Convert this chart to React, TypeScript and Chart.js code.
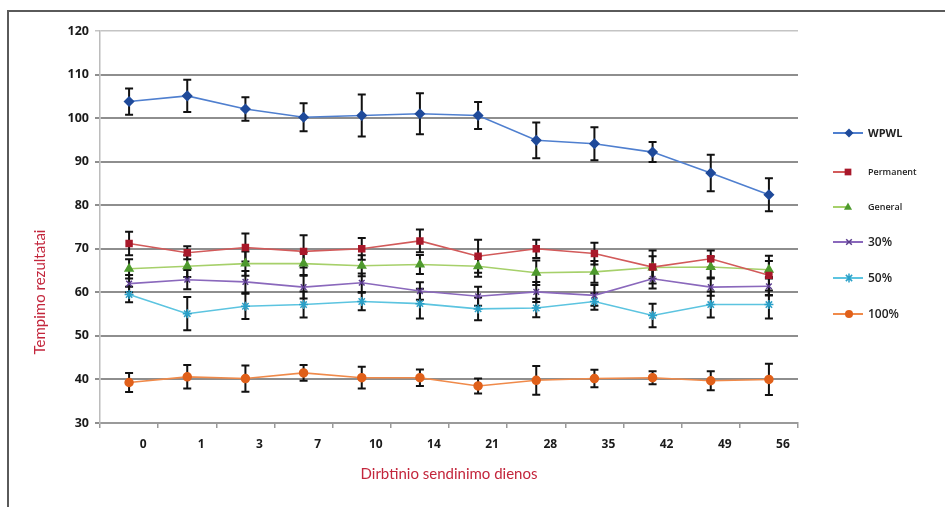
import React, { useEffect, useRef } from "react";
import { Chart, registerables } from "chart.js";

Chart.register(...registerables);

const categories = ["0", "1", "3", "7", "10", "14", "21", "28", "35", "42", "49", "56"];
const yTicks = [30, 40, 50, 60, 70, 80, 90, 100, 110, 120];

const seriesNames = ["WPWL", "Permanent", "General", "30%", "50%", "100%"];

const wpwl = [103.8, 105.1, 102.1, 100.2, 100.6, 101.0, 100.6, 94.9, 94.1, 92.2, 87.4, 82.4];
const wpwlErr = [3.0, 3.7, 2.7, 3.2, 4.8, 4.7, 3.1, 4.1, 3.8, 2.3, 4.2, 3.8];
const permanent = [71.2, 69.1, 70.3, 69.4, 70.0, 71.8, 68.3, 70.0, 68.9, 65.8, 67.7, 63.9];
const permanentErr = [2.7, 1.5, 3.2, 3.7, 2.5, 2.6, 3.8, 2.1, 2.5, 3.8, 1.9, 4.5];
const general = [65.4, 66.0, 66.6, 66.6, 66.1, 66.4, 66.0, 64.5, 64.7, 65.7, 65.8, 65.2];
const generalErr = [2.2, 2.5, 2.8, 2.6, 2.4, 2.2, 2.4, 2.8, 2.5, 2.6, 2.4, 2.0];
const p30 = [62.0, 62.9, 62.4, 61.2, 62.2, 60.3, 59.1, 60.1, 59.3, 63.1, 61.2, 61.4];
const p30Err = [2.0, 2.2, 2.5, 2.6, 2.1, 2.0, 2.2, 2.3, 2.4, 2.2, 2.0, 2.1];
const p50 = [59.5, 55.1, 56.8, 57.2, 57.9, 57.4, 56.2, 56.4, 57.9, 54.7, 57.2, 57.2];
const p50Err = [1.8, 3.8, 2.9, 3.0, 2.0, 3.4, 2.6, 2.1, 1.9, 2.7, 3.0, 3.2];
const p100 = [39.3, 40.6, 40.2, 41.5, 40.4, 40.4, 38.5, 39.8, 40.2, 40.4, 39.7, 40.0];
const p100Err = [2.2, 2.7, 3.0, 1.8, 2.5, 1.9, 1.7, 3.3, 2.0, 1.5, 2.2, 3.6];

const seriesValues = [wpwl, permanent, general, p30, p50, p100];
const seriesErrors = [wpwlErr, permanentErr, generalErr, p30Err, p50Err, p100Err];

const xTitle = "Dirbtinio sendinimo dienos";
const yTitle = "Tempimo rezultatai";

const styles = [
  { line: "#4f7fcf", point: "#1f4a9a", shape: "rectRot", radius: 4.5, font: "bold 11px 'Open Sans'", short: false },
  { line: "#d25a5a", point: "#a8182a", shape: "rect", radius: 4.2, font: "600 9px 'Open Sans'", short: true },
  { line: "#a6d06a", point: "#4e9a2e", shape: "triangle", radius: 4.5, font: "600 9px 'Open Sans'", short: true },
  { line: "#8a68bc", point: "#5a3c8c", shape: "crossRot", radius: 4, font: "600 12px 'Open Sans'", short: false },
  { line: "#5cc4e0", point: "#2aa0c8", shape: "star", radius: 4.5, font: "600 12px 'Open Sans'", short: false },
  { line: "#f08a4a", point: "#e0601a", shape: "circle", radius: 4, font: "600 12px 'Open Sans'", short: false },
];

function drawMarker(ctx: CanvasRenderingContext2D, shape: string, x: number, y: number, r: number, color: string) {
  ctx.save();
  ctx.fillStyle = color;
  ctx.strokeStyle = color;
  ctx.lineWidth = 1.5;
  ctx.beginPath();
  if (shape === "rectRot") {
    ctx.moveTo(x, y - r);
    ctx.lineTo(x + r, y);
    ctx.lineTo(x, y + r);
    ctx.lineTo(x - r, y);
    ctx.closePath();
    ctx.fill();
  } else if (shape === "rect") {
    ctx.rect(x - r * 0.8, y - r * 0.8, r * 1.6, r * 1.6);
    ctx.fill();
  } else if (shape === "triangle") {
    ctx.moveTo(x, y - r);
    ctx.lineTo(x + r * 0.9, y + r * 0.6);
    ctx.lineTo(x - r * 0.9, y + r * 0.6);
    ctx.closePath();
    ctx.fill();
  } else if (shape === "crossRot") {
    const d = r * 0.7;
    ctx.moveTo(x - d, y - d);
    ctx.lineTo(x + d, y + d);
    ctx.moveTo(x + d, y - d);
    ctx.lineTo(x - d, y + d);
    ctx.stroke();
  } else if (shape === "star") {
    const d = r * 0.7;
    ctx.moveTo(x - d, y - d);
    ctx.lineTo(x + d, y + d);
    ctx.moveTo(x + d, y - d);
    ctx.lineTo(x - d, y + d);
    ctx.moveTo(x, y - r);
    ctx.lineTo(x, y + r);
    ctx.stroke();
  } else {
    ctx.arc(x, y, r, 0, Math.PI * 2);
    ctx.fill();
  }
  ctx.restore();
}

const errorBarPlugin = {
  id: "errorBars",
  beforeDatasetsDraw(chart: any) {
    const ctx = chart.ctx;
    const yScale = chart.scales.y;
    ctx.save();
    ctx.strokeStyle = "#111";
    ctx.lineWidth = 2;
    chart.data.datasets.forEach((ds: any, i: number) => {
      const meta = chart.getDatasetMeta(i);
      const errs = seriesErrors[i];
      meta.data.forEach((pt: any, j: number) => {
        const v = ds.data[j];
        const e = errs[j];
        const x = pt.x;
        const yT = yScale.getPixelForValue(v + e);
        const yB = yScale.getPixelForValue(v - e);
        ctx.beginPath();
        ctx.moveTo(x, yT);
        ctx.lineTo(x, yB);
        ctx.moveTo(x - 4, yT);
        ctx.lineTo(x + 4, yT);
        ctx.moveTo(x - 4, yB);
        ctx.lineTo(x + 4, yB);
        ctx.stroke();
      });
    });
    ctx.restore();
  },
};

const titlesLegendPlugin = {
  id: "titlesLegend",
  afterDraw(chart: any) {
    const ctx = chart.ctx;
    const area = chart.chartArea;
    ctx.save();
    ctx.fillStyle = "#c3263c";
    ctx.font = "15px Lato";
    ctx.textAlign = "center";
    ctx.textBaseline = "middle";
    ctx.fillText(xTitle, (area.left + area.right) / 2, 474);
    ctx.save();
    ctx.translate(40, 292);
    ctx.rotate(-Math.PI / 2);
    ctx.fillText(yTitle, 0, 0);
    ctx.restore();

    const ys = [133, 172, 207, 242, 278, 314];
    chart.data.datasets.forEach((ds: any, i: number) => {
      const st = styles[i];
      const y = ys[i];
      ctx.strokeStyle = st.line;
      ctx.lineWidth = 2;
      ctx.beginPath();
      ctx.moveTo(833, y);
      ctx.lineTo(st.short ? 846 : 863, y);
      ctx.stroke();
      const mx = st.short ? 848 : 849;
      drawMarker(ctx, st.shape, mx, y, st.radius, st.point);
      ctx.fillStyle = "#222";
      ctx.font = st.font;
      ctx.textAlign = "left";
      ctx.textBaseline = "middle";
      ctx.fillText(ds.label, 868, y + 0.5);
    });
    ctx.restore();
  },
};

export default function App() {
  const canvasRef = useRef<HTMLCanvasElement | null>(null);

  useEffect(() => {
    document.body.style.margin = "0";
    const canvas = canvasRef.current;
    if (!canvas) return;
    const datasets = seriesNames.map((name, i) => ({
      label: name,
      data: seriesValues[i],
      borderColor: styles[i].line,
      backgroundColor: styles[i].point,
      pointBackgroundColor: styles[i].point,
      pointBorderColor: styles[i].point,
      pointStyle: styles[i].shape,
      pointRadius: styles[i].radius,
      pointBorderWidth: 1.5,
      borderWidth: 1.6,
      tension: 0,
      fill: false,
    }));
    const chart = new Chart(canvas, {
      type: "line",
      data: { labels: categories, datasets },
      options: {
        animation: false,
        responsive: false,
        layout: { padding: { left: 0, top: 31, right: 147, bottom: 0 } },
        plugins: {
          legend: { display: false },
          tooltip: { enabled: false },
          title: { display: false },
        },
        scales: {
          x: {
            type: "category",
            offset: true,
            afterFit: (scale: any) => {
              scale.height = 84;
            },
            grid: {
              offset: true,
              drawOnChartArea: false,
              drawTicks: true,
              tickLength: 5,
              color: "#9a9a9a",
              lineWidth: 1.5,
            },
            border: { display: true, color: "#9a9a9a", width: 2 },
            ticks: {
              color: "#1a1a1a",
              font: { family: "'Open Sans'", size: 12, weight: "bold" },
              padding: 9,
              labelOffset: 14,
              maxRotation: 0,
              autoSkip: false,
            },
          },
          y: {
            min: 30,
            max: 120,
            afterFit: (scale: any) => {
              scale.width = 100;
            },
            afterBuildTicks: (scale: any) => {
              scale.ticks = yTicks.map((v) => ({ value: v }));
            },
            grid: {
              color: (c: any) => (c.tick && c.tick.value === 120 ? "#c4c4c4" : "#8e8e8e"),
              lineWidth: (c: any) => (c.tick && c.tick.value === 120 ? 1.5 : 2),
              tickLength: 5,
              drawTicks: true,
            },
            border: { display: true, color: "#bcbcbc", width: 1.5 },
            ticks: {
              color: "#1a1a1a",
              font: { family: "'Open Sans'", size: 12.5, weight: "bold" },
              padding: 6,
            },
          },
        },
      },
      plugins: [errorBarPlugin, titlesLegendPlugin],
    });
    return () => chart.destroy();
  }, []);

  return (
    <div style={{ position: "relative", width: 945, height: 507, background: "#fff", overflow: "hidden" }}>
      <div
        style={{
          position: "absolute",
          left: 7,
          top: 10,
          width: 945,
          height: 520,
          borderTop: "2px solid #5a5a5a",
          borderLeft: "2px solid #5a5a5a",
          boxSizing: "border-box",
        }}
      />
      <canvas
        ref={canvasRef}
        width={945}
        height={507}
        style={{ position: "absolute", left: 0, top: 0, display: "block" }}
      />
    </div>
  );
}
